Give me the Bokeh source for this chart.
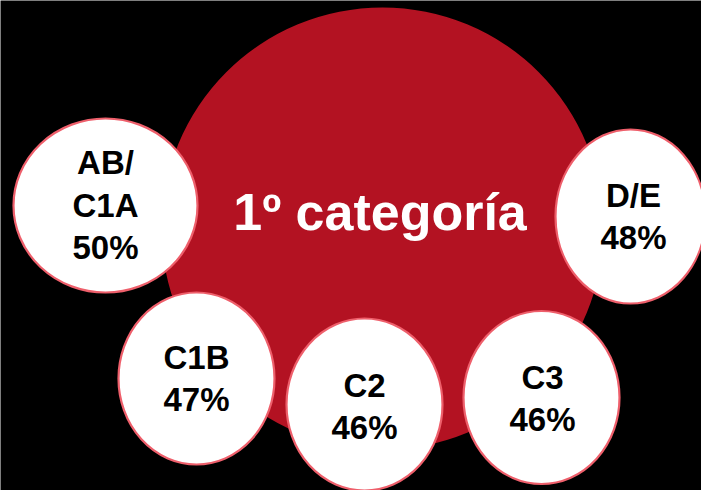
from bokeh.plotting import figure
from bokeh.models import Range1d, ColumnDataSource
from bokeh.core.properties import value
from bokeh.embed import file_html
from bokeh.resources import INLINE

# ---- data ----
title_text = "1º categoría"
categories = ["AB/C1A", "C1B", "C2", "C3", "D/E"]
percentages = [50, 47, 46, 46, 48]

# ---- layout (pixel canvas) ----
W, H = 701, 490
big_center = (382, 228)
big_diam = 442
bubble_cx = [105, 196, 364, 541, 630]
bubble_cy = [205, 378, 404, 397, 216]
bubble_w = [184, 156, 156, 156, 150]
bubble_h = [174, 172, 172, 173, 174]
text_cx = [105, 196, 364, 542, 633]
last_baseline = [247, 399, 427, 419, 237]
line_pitch = 42.5
title_xy = (379.5, 211)

RED = "#B31222"
PINK = "#EE5F6B"
FONT = "Liberation Sans"

p = figure(width=W, height=H, x_range=Range1d(0, W), y_range=Range1d(H, 0),
           output_backend="svg", toolbar_location=None, min_border=0,
           background_fill_color="black", border_fill_color="black")
p.outline_line_color = None
p.axis.visible = False
p.grid.visible = False

# big red circle
p.ellipse(x=[big_center[0]], y=[big_center[1]], width=[big_diam], height=[big_diam],
          fill_color=RED, line_color=None)

p.text(x=[title_xy[0]], y=[title_xy[1]], text=[title_text], text_color="white",
       text_font=value(FONT), text_font_style="bold", text_font_size="52px",
       text_align="center", text_baseline="alphabetic")

# bubbles
src = ColumnDataSource(dict(x=bubble_cx, y=bubble_cy, w=bubble_w, h=bubble_h))
p.ellipse(x="x", y="y", width="w", height="h", source=src,
          fill_color="white", line_color=PINK, line_width=2.2)

tx, ty, tt = [], [], []
for i, (cat, pct) in enumerate(zip(categories, percentages)):
    if "/" in cat and len(cat) > 3:
        a, b = cat.split("/", 1)
        lines = [a + "/", b]
    else:
        lines = [cat]
    lines.append(f"{pct}%")
    n = len(lines)
    for j, ln in enumerate(lines):
        tx.append(text_cx[i])
        ty.append(last_baseline[i] - (n - 1 - j) * line_pitch)
        tt.append(ln)

p.text(x=tx, y=ty, text=tt, text_color="black",
       text_font=value(FONT), text_font_style="bold", text_font_size="33px",
       text_align="center", text_baseline="alphabetic")

open("out.html", "w").write(file_html(p, INLINE))
